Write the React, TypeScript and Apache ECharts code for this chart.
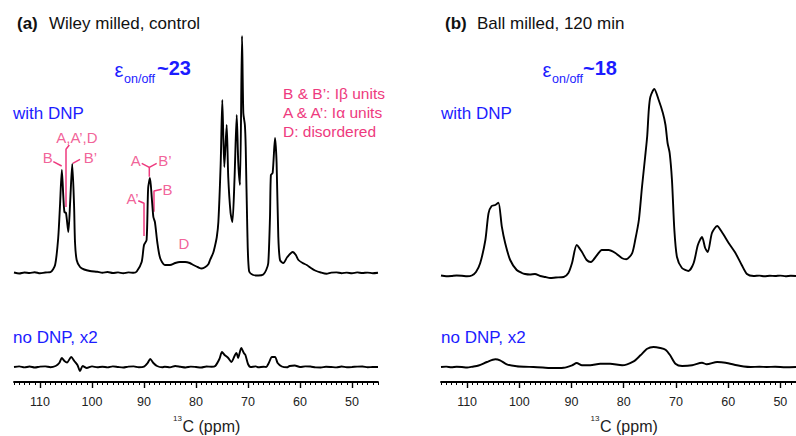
import React, { useEffect, useRef } from "react";
import * as echarts from "echarts";

// ---------- data (ppm, intensity a.u.) ----------
const dnpA: [number, number][] = [
  [115, 0.5], [114, -0.5], [113, 0.5], [112, 0], [111, 0.8], [110, -0.3], [109, 0.5], [108, 0.8],
  [107.1, 8], [106.5, 35], [106.15, 68], [105.8, 103], [105.5, 75], [105.3, 61], [105.0, 60],
  [104.55, 41], [104.2, 71], [103.8, 109], [103.45, 68], [103.27, 31], [102.95, 13], [102.3, 6],
  [101.5, 3.5], [100.4, 2], [99, 1.2], [98, 0.3], [97, 1], [96, 0], [95, 0.6], [94, -0.3], [93, 0.6],
  [92, 0.2], [91.4, 1.5], [90.45, 11], [90.0, 28], [89.5, 33], [89.2, 85], [88.85, 95], [88.5, 75],
  [88.2, 56], [87.9, 51], [87.45, 31], [86.9, 15], [86.0, 8], [85.0, 8], [84, 10], [83.1, 11],
  [82.1, 11], [81.2, 10], [80.5, 8], [79.5, 5.5], [78.9, 4.5], [78.2, 6], [77.6, 9], [77.3, 13],
  [76.7, 20], [76.35, 27], [76.0, 36], [75.7, 51], [75.25, 110], [74.94, 173], [74.56, 106],
  [74.1, 148], [73.8, 96], [73.35, 60], [73.0, 51], [72.6, 93], [72.17, 158], [71.87, 110],
  [71.54, 88], [71.15, 237], [70.9, 160], [70.6, 148], [70.44, 126], [70.13, 43], [69.8, 2],
  [69.0, -2], [68, -2.5], [67.05, -1.5], [66.5, 3], [66.1, 10], [65.77, 56], [65.6, 98], [65.26, 100],
  [64.8, 135], [64.5, 110], [64.17, 36], [63.85, 13], [63.2, 10], [62.44, 16], [61.4, 21], [60.8, 18],
  [60.3, 13], [59.5, 10], [58.7, 8], [57.9, 5], [57.1, 2.5], [56, 0.5], [54.9, -0.8], [54, 0.4],
  [53, 0.6], [52, -0.2], [51, 0.4], [50, -0.3], [49, 0.6], [48, 0], [47, 0.4], [46, -0.2], [45, 0.3],
];

const noDnpA: [number, number][] = [
  [115, 0], [114, 0.6], [113, -0.4], [112, 0.5], [111, -0.5], [110, 0.4], [109, 0.6], [108, -0.2],
  [107, 1], [106.3, 4], [105.8, 9], [105.3, 6], [104.8, 4.5], [104.0, 10], [103.4, 6], [102.8, 2],
  [102.3, -4], [101.8, 1], [101, -1], [100, 0.6], [99, -0.3], [98, 0.3], [97, -0.4], [96, 0.6],
  [95, 0], [94, -0.5], [93, 0.4], [92, 0.6], [91, -0.3], [90, 0.3], [89.3, 4], [88.8, 8], [88.2, 4],
  [87.5, 1], [86.5, -0.3], [86, 0.3], [85, -0.4], [84, 1], [83, 0.2], [82, -0.5], [81, 0.4], [80, 0],
  [79, -0.5], [78, 0.5], [77, 0.2], [76.3, 1], [75.5, 8], [75.0, 15], [74.5, 12], [73.8, 9],
  [73.2, 5], [72.5, 12], [72.2, 14], [71.9, 9], [71.3, 19], [70.8, 14], [70.5, 12], [70.0, 3],
  [69.5, 0], [68.5, 0.6], [68, -0.3], [67, 0.3], [66.5, 0], [66.0, 4], [65.4, 10], [64.8, 10],
  [64.3, 4], [63.5, 0.5], [62.5, -0.3], [62, 1], [61, 1.5], [60, 0], [59, 0.6], [58, 0.5], [57, -0.4],
  [56, -0.5], [55, 0.3], [54, 0], [53, -0.4], [52, 0.5], [51, -0.2], [50, 0], [49, 0.4], [48, 0.5],
  [47, -0.3], [46, 0], [45, 0],
];

const dnpB: [number, number][] = [
  [115, 0.5], [114, -0.3], [113, 0], [112, 0.5], [111, 0.3], [110, -0.3], [109.1, 0.5], [108.3, 4],
  [107.5, 12.7], [106.5, 36], [105.9, 62.7], [105.3, 70], [104.6, 71], [104.0, 73.3], [103.35, 49.3],
  [102.7, 32.7], [101.75, 16], [100.5, 6], [99.5, 3], [98.9, 2], [98, 1.5], [97, 2], [96, 0],
  [95, -1], [94.1, -2], [93, -1.5], [91.5, -1], [90.6, 3], [89.9, 13], [89.0, 31], [88.0, 24],
  [87.1, 16], [86.3, 14], [85.1, 21], [84.2, 26], [82.9, 26], [81.6, 23], [80.3, 17.7], [79.5, 16.7],
  [78.4, 22.7], [77.8, 36], [77.1, 56], [76.5, 89], [75.9, 119], [75.5, 140], [75.2, 166], [74.9, 179],
  [74.15, 187], [73.3, 176], [72.5, 163], [72.0, 151], [71.6, 133], [71.2, 123], [70.76, 96],
  [70.3, 46], [69.8, 19], [68.85, 8], [67.6, 5], [66.6, 13], [65.8, 31], [65.0, 39], [64.4, 28],
  [63.9, 24], [63.1, 43], [62.1, 50], [61.2, 44], [59.9, 33], [58.6, 23], [57.4, 11], [56.4, 2],
  [55.1, 0], [54, 0.4], [53, -0.3], [52, 0.3], [51, 0], [50, 0.4], [49, -0.2], [48, 0.3], [47, 0],
];

const noDnpB: [number, number][] = [
  [115, 0], [114, 0.4], [113, -0.3], [112, 0.3], [111, 0], [110, -0.5], [109, 0.3], [107.8, 1.5],
  [106.2, 5], [104.6, 7.7], [103.7, 6.7], [102.4, 2.7], [100.5, 0.7], [99, 0.2], [97.3, 0], [95.5, -0.5],
  [94.1, -1], [91.5, -0.7], [89.9, 1.7], [89.0, 4], [88.0, 1.7], [86.4, 1.7], [84.5, 3.3], [82.6, 3.3],
  [80.3, 1.7], [78.1, 5.7], [76.8, 11.7], [75.5, 18.3], [74.3, 20], [73.0, 19], [72.0, 17.3],
  [71.1, 11.7], [70.1, 3.3], [68.8, 1], [66.9, 1.7], [65.0, 4.3], [64.1, 2.7], [62.1, 5], [60.5, 4.3],
  [58.3, 1.7], [57, 0.5], [55.7, 0], [54, 0.3], [52.6, 0], [51, 0.3], [49, -0.2], [47, 0],
];

// peak assignment labels (panel a, DNP trace): [ppm, intensity, text]
const peakLabels: [number, number, string][] = [
  [108.5, 116, "B"],
  [102.9, 136, "A,A’,D"],
  [100.3, 116, "B’"],
  [91.6, 112.3, "A"],
  [86.0, 112.3, "B’"],
  [85.5, 84, "B"],
  [92.2, 74.7, "A’"],
  [82.3, 30, "D"],
];

// leader lines for the labels: lists of [ppm, intensity]
const leaderLines: [number, number][][] = [
  [[107.44, 111.3], [105.83, 107]],
  [[104.37, 128], [105.0, 123.7], [105.0, 66]],
  [[103.7, 109.7], [102.3, 113.7]],
  [[90.44, 109.7], [88.98, 105.7], [87.56, 109.7]],
  [[88.98, 105.7], [88.98, 96.3]],
  [[86.6, 83.7], [88.08, 82], [88.08, 61.3]],
  [[91.1, 72.3], [90.0, 69.7], [90.0, 37]],
];

const majorTicks = [110, 100, 90, 80, 70, 60, 50];
const panelTitles = ["Wiley milled, control", "Ball milled, 120 min"];
const panelLetters = ["(a)", "(b)"];
const enhancements = ["~23", "~18"];
const legendLines = ["B & B’: Iβ units", "A & A’: Iα units", "D: disordered"];

const FONT = "'Liberation Sans', Arial, Helvetica, sans-serif";
const BLUE = "#1c1cff";
const PINK = "#ee3a7e";

export default function App() {
  const ref = useRef<HTMLDivElement>(null);
  useEffect(() => {
    if (!ref.current) return;
    const chart = echarts.init(ref.current, null, { renderer: "svg" });

    const hiddenX = (gridIndex: number, min: number) => ({
      gridIndex, type: "value", inverse: true, min, max: 115, show: false,
    });
    const mainX = (gridIndex: number, min: number) => ({
      gridIndex, type: "value", inverse: true, min, max: 115, position: "bottom",
      axisLine: { show: true, onZero: false, lineStyle: { color: "#000", width: 1.8 } },
      axisTick: { show: true, length: 6, lineStyle: { color: "#000", width: 1.4 }, customValues: majorTicks },
      axisLabel: { show: true, customValues: majorTicks, margin: 13, fontSize: 12.5, color: "#222", fontFamily: FONT },
      splitLine: { show: false },
    });
    const minorX = (gridIndex: number, min: number) => ({
      gridIndex, type: "value", inverse: true, min, max: 115, interval: 1, position: "bottom", offset: 0,
      axisLine: { show: false, onZero: false },
      axisTick: { show: true, length: 3, lineStyle: { color: "#000", width: 1 } },
      axisLabel: { show: false },
      splitLine: { show: false },
    });
    const yAx = (gridIndex: number, min: number, max: number) => ({
      gridIndex, type: "value", min, max, show: false, splitLine: { show: false },
    });
    const trace = (data: [number, number][], xi: number, yi: number) => ({
      type: "line", xAxisIndex: xi, yAxisIndex: yi, data, showSymbol: false, symbol: "none",
      smooth: 0.25, lineStyle: { color: "#000", width: 1.9 }, silent: true,
    });

    const graphic: any[] = [];
    const txt = (text: string, x: number, y: number, size: number, color: string, weight = "normal", align = "left") =>
      graphic.push({
        type: "text", x, y, silent: true,
        style: { text, fill: color, font: `${weight} ${size}px ${FONT}`, align, verticalAlign: "middle" },
      });
    const offs = [0, 428];
    [0, 1].forEach((p) => {
      const o = offs[p];
      txt(panelLetters[p], 17 + o, 23, 17, "#111", "bold");
      txt(panelTitles[p], 49 + o, 23, 17, "#111");
      txt("ε", (p === 0 ? 114.5 : 542.5), 70, 20, BLUE);
      txt("on/off", (p === 0 ? 124 : 552), 79, 12.5, BLUE);
      txt(enhancements[p], (p === 0 ? 157 : 583), 68, 20, BLUE, "bold");
      txt("with DNP", 13 + o, 113, 17, BLUE);
      txt("no DNP, x2", 13 + o, 337, 17, BLUE);
      txt("13", (p === 0 ? 182 : 599.5), 418, 8, "#222", "normal", "right");
      txt("C (ppm)", (p === 0 ? 182.5 : 600), 426, 16, "#222");
    });
    legendLines.forEach((l, i) => txt(l, 283, 93 + i * 19, 15.5, PINK));

    const option: any = {
      animation: false,
      backgroundColor: "#fff",
      grid: [
        { left: 14, width: 364, top: 20, height: 263 },
        { left: 14, width: 364, top: 330, height: 52 },
        { left: 441, width: 355, top: 20, height: 266 },
        { left: 441, width: 355, top: 330, height: 52 },
      ],
      xAxis: [hiddenX(0, 45), mainX(1, 45), minorX(1, 45), hiddenX(2, 47), mainX(3, 47), minorX(3, 47)],
      yAxis: [yAx(0, -10, 253), yAx(1, -15, 37), yAx(2, -10, 256), yAx(3, -15, 37)],
      series: [
        trace(dnpA, 0, 0),
        trace(noDnpA, 1, 1),
        trace(dnpB, 3, 2),
        trace(noDnpB, 4, 3),
        ...leaderLines.map((d) => ({
          type: "line", xAxisIndex: 0, yAxisIndex: 0, data: d, showSymbol: false, symbol: "none",
          lineStyle: { color: PINK, width: 1.5 }, silent: true, z: 1,
        })),
        {
          type: "scatter", xAxisIndex: 0, yAxisIndex: 0, symbolSize: 1,
          itemStyle: { color: "transparent" }, silent: true,
          data: peakLabels.map((l) => ({ value: [l[0], l[1]], name: l[2] })),
          label: {
            show: true, position: "inside", formatter: (pp: any) => pp.name,
            color: PINK, fontSize: 15, fontFamily: FONT,
          },
        },
      ],
      graphic,
    };
    chart.setOption(option);
    return () => chart.dispose();
  }, []);
  return (
    <div
      ref={ref}
      style={{ position: "fixed", left: 0, top: 0, width: 796, height: 436, background: "#fff" }}
    />
  );
}
